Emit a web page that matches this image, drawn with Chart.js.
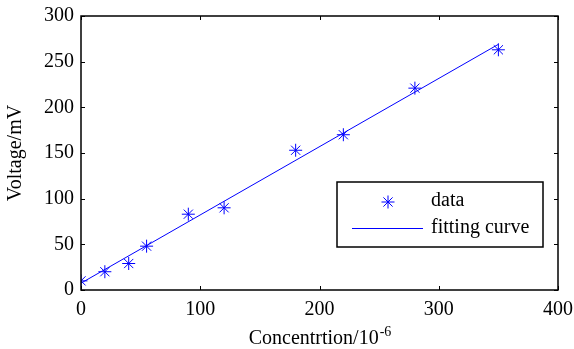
<!DOCTYPE html>
<html>
<head>
<meta charset="utf-8">
<script src="https://cdn.jsdelivr.net/npm/chart.js@4.4.1/dist/chart.umd.min.js"></script>
<style>
  html, body { margin: 0; padding: 0; background: #fff; }
  #wrap { width: 574px; height: 349px; }
</style>
</head>
<body>
<div id="wrap"><canvas id="c" width="574" height="349"></canvas></div>
<script>
// ---- data ----
const concentration = [0, 20, 40, 55, 90, 120, 180, 220, 280, 350];
const voltage       = [10, 20, 29, 48, 83, 90, 153, 170, 221, 263];
const fitX = [0, 350];
const fitY = [7.5, 269];
const xTicks = [0, 100, 200, 300, 400];
const yTicks = [0, 50, 100, 150, 200, 250, 300];
const seriesLabels = ['data', 'fitting curve'];
const xTitle = 'Concentrtion/10';
const xTitleSup = '-6';
const yTitle = 'Voltage/mV';

const FONT = '"Liberation Serif", "Times New Roman", serif';
const FS = 20;
const BLUE = '#0000ff';

const framePlugin = {
  id: 'frame',
  afterDraw(chart) {
    const ctx = chart.ctx;
    const a = chart.chartArea;
    const xs = chart.scales.x, ys = chart.scales.y;
    ctx.save();
    ctx.strokeStyle = '#000';
    ctx.lineWidth = 1.5;
    ctx.strokeRect(a.left, a.top, a.right - a.left, a.bottom - a.top);
    // inward ticks on all four sides
    ctx.lineWidth = 1;
    const tl = 4;
    ctx.beginPath();
    xs.ticks.forEach(t => {
      const px = Math.round(xs.getPixelForValue(t.value)) + 0.5;
      ctx.moveTo(px, a.bottom); ctx.lineTo(px, a.bottom - tl);
      ctx.moveTo(px, a.top); ctx.lineTo(px, a.top + tl);
    });
    ys.ticks.forEach(t => {
      const py = Math.round(ys.getPixelForValue(t.value)) + 0.5;
      ctx.moveTo(a.left, py); ctx.lineTo(a.left + tl, py);
      ctx.moveTo(a.right, py); ctx.lineTo(a.right - tl, py);
    });
    ctx.stroke();

    // x axis title with superscript
    ctx.fillStyle = '#000';
    ctx.textBaseline = 'alphabetic';
    ctx.font = FS + 'px ' + FONT;
    const w1 = ctx.measureText(xTitle).width;
    ctx.font = Math.round(FS * 0.7) + 'px ' + FONT;
    const w2 = ctx.measureText(xTitleSup).width;
    const cx = (a.left + a.right) / 2;
    const x0 = cx - (w1 + w2) / 2;
    const base = 344;
    ctx.font = FS + 'px ' + FONT;
    ctx.textAlign = 'left';
    ctx.fillText(xTitle, x0, base);
    ctx.font = Math.round(FS * 0.7) + 'px ' + FONT;
    ctx.fillText(xTitleSup, x0 + w1 + 1, base - 8);

    // legend
    const lx = 337, ly = 182, lw = 206, lh = 65;
    ctx.fillStyle = '#fff';
    ctx.fillRect(lx, ly, lw, lh);
    ctx.strokeStyle = '#000';
    ctx.lineWidth = 1.5;
    ctx.strokeRect(lx, ly, lw, lh);
    // marker
    const d0 = chart.data.datasets[0];
    ctx.strokeStyle = BLUE;
    ctx.fillStyle = BLUE;
    ctx.lineWidth = 1;
    Chart.helpers.drawPoint(ctx, {
      pointStyle: 'star', radius: d0.pointRadius, borderWidth: 1, rotation: 0
    }, 388, 202);
    ctx.strokeStyle = BLUE;
    ctx.lineWidth = 1;
    ctx.beginPath();
    ctx.moveTo(352, 228.5); ctx.lineTo(423, 228.5);
    ctx.stroke();
    ctx.fillStyle = '#000';
    ctx.font = FS + 'px ' + FONT;
    ctx.textAlign = 'left';
    ctx.textBaseline = 'middle';
    ctx.fillText(seriesLabels[0], 431, 201);
    ctx.fillText(seriesLabels[1], 431, 228);
    ctx.restore();
  }
};

new Chart(document.getElementById('c'), {
  type: 'scatter',
  data: {
    datasets: [
      {
        label: seriesLabels[0],
        data: concentration.map((x, i) => ({ x: x, y: voltage[i] })),
        showLine: false,
        pointStyle: 'star',
        pointRadius: 6.5,
        pointBorderWidth: 1,
        borderColor: BLUE,
        backgroundColor: BLUE,
        order: 0
      },
      {
        label: seriesLabels[1],
        data: fitX.map((x, i) => ({ x: x, y: fitY[i] })),
        showLine: true,
        pointRadius: 0,
        borderWidth: 1,
        borderColor: BLUE,
        backgroundColor: BLUE,
        order: 1
      }
    ]
  },
  options: {
    responsive: false,
    animation: false,
    devicePixelRatio: 1,
    layout: { padding: { top: 16, right: 16, left: 0, bottom: 0 } },
    plugins: { legend: { display: false }, tooltip: { enabled: false } },
    scales: {
      x: {
        type: 'linear',
        min: 0, max: 400,
        afterBuildTicks(s) { s.ticks = xTicks.map(v => ({ value: v })); },
        afterFit(s) { s.height = 59; s.paddingLeft = 0; s.paddingRight = 0; },
        grid: { display: false, drawTicks: false },
        border: { display: false },
        ticks: { color: '#000', padding: 8, font: { family: FONT, size: FS }, maxRotation: 0 },
        title: { display: false }
      },
      y: {
        type: 'linear',
        min: 0, max: 300,
        afterBuildTicks(s) { s.ticks = yTicks.map(v => ({ value: v })); },
        afterFit(s) { s.width = 81; s.paddingTop = 0; s.paddingBottom = 0; },
        grid: { display: false, drawTicks: false },
        border: { display: false },
        ticks: { color: '#000', padding: 7, font: { family: FONT, size: FS } },
        title: { display: true, text: yTitle, color: '#000', font: { family: FONT, size: FS }, padding: { top: 4, bottom: 4 } }
      }
    }
  },
  plugins: [framePlugin]
});
</script>
</body>
</html>
